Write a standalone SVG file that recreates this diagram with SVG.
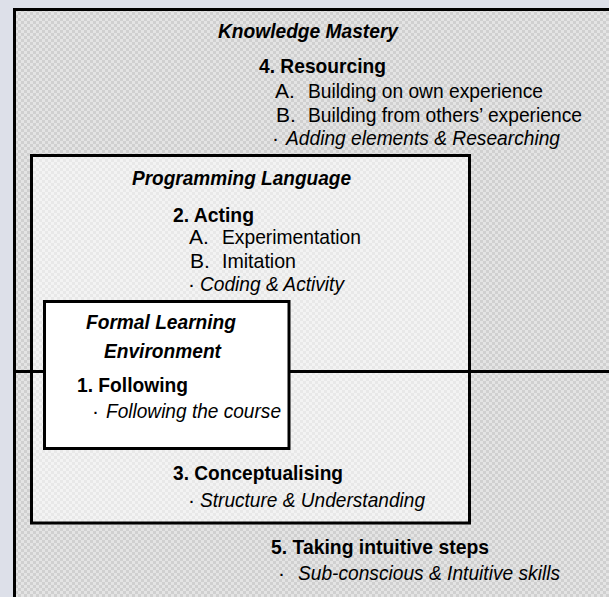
<svg xmlns="http://www.w3.org/2000/svg" width="609" height="597" viewBox="0 0 609 597">
<style>
.t{font-family:"Liberation Sans Narrow","Liberation Sans",Arial,sans-serif;font-size:21px;fill:#000}
.b{font-weight:bold}
.i{font-style:italic}
.box{stroke:#000;stroke-width:3}
</style>
<defs>
<pattern id="chkDark" width="6" height="6" patternUnits="userSpaceOnUse">
<rect width="6" height="6" fill="#e4e4e4"/>
<rect width="3" height="3" fill="#d0d0d0"/>
<rect x="3" y="3" width="3" height="3" fill="#d0d0d0"/>
</pattern>
<pattern id="chkLight" width="6" height="6" patternUnits="userSpaceOnUse">
<rect width="6" height="6" fill="#f3f3f3"/>
<rect width="3" height="3" fill="#e8e8e8"/>
<rect x="3" y="3" width="3" height="3" fill="#e8e8e8"/>
</pattern>
</defs>
<rect x="0" y="0" width="609" height="597" fill="#dde0e9"/>

<g id="knowledge-mastery">
<rect class="box" x="14.5" y="9.5" width="620" height="620" fill="url(#chkDark)"/>
<text class="t b i" x="218" y="38" textLength="180" lengthAdjust="spacingAndGlyphs">Knowledge Mastery</text>
<text class="t b" x="259" y="73" textLength="127" lengthAdjust="spacingAndGlyphs">4. Resourcing</text>
<text class="t" x="275" y="98">A.</text>
<text class="t" x="308" y="98" textLength="235" lengthAdjust="spacingAndGlyphs">Building on own experience</text>
<text class="t" x="276" y="122">B.</text>
<text class="t" x="308" y="122" textLength="274" lengthAdjust="spacingAndGlyphs">Building from others’ experience</text>
<text class="t" x="272" y="145">·</text>
<text class="t i" x="286" y="145" textLength="274" lengthAdjust="spacingAndGlyphs">Adding elements &amp; Researching</text>
</g>

<g id="programming-language">
<rect class="box" x="31.5" y="155.5" width="438" height="367.5" fill="url(#chkLight)"/>
<text class="t b i" x="132" y="185" textLength="219" lengthAdjust="spacingAndGlyphs">Programming Language</text>
<text class="t b" x="173" y="222" textLength="81" lengthAdjust="spacingAndGlyphs">2. Acting</text>
<text class="t" x="189" y="244">A.</text>
<text class="t" x="222" y="244" textLength="139" lengthAdjust="spacingAndGlyphs">Experimentation</text>
<text class="t" x="190" y="268">B.</text>
<text class="t" x="222" y="268" textLength="74" lengthAdjust="spacingAndGlyphs">Imitation</text>
<text class="t" x="188" y="291">·</text>
<text class="t i" x="200" y="291" textLength="144" lengthAdjust="spacingAndGlyphs">Coding &amp; Activity</text>
<text class="t b" x="173" y="480" textLength="170" lengthAdjust="spacingAndGlyphs">3. Conceptualising</text>
<text class="t" x="188" y="507">·</text>
<text class="t i" x="200" y="507" textLength="225" lengthAdjust="spacingAndGlyphs">Structure &amp; Understanding</text>
</g>

<g id="connectors">
<line x1="14.5" y1="371.5" x2="609" y2="371.5" stroke="#000" stroke-width="3"/>
</g>

<g id="formal-learning-environment">
<rect class="box" x="44.5" y="301.5" width="244.5" height="147" fill="#ffffff"/>
<text class="t b i" x="86" y="329" textLength="150" lengthAdjust="spacingAndGlyphs">Formal Learning</text>
<text class="t b i" x="104" y="358" textLength="117" lengthAdjust="spacingAndGlyphs">Environment</text>
<text class="t b" x="77" y="392" textLength="111" lengthAdjust="spacingAndGlyphs">1. Following</text>
<text class="t" x="92" y="418">·</text>
<text class="t i" x="106" y="418" textLength="175" lengthAdjust="spacingAndGlyphs">Following the course</text>
</g>

<g id="intuitive-steps">
<text class="t b" x="271" y="554" textLength="218" lengthAdjust="spacingAndGlyphs">5. Taking intuitive steps</text>
<text class="t" x="278" y="580">·</text>
<text class="t i" x="298" y="580" textLength="262" lengthAdjust="spacingAndGlyphs">Sub-conscious &amp; Intuitive skills</text>
</g>
</svg>
